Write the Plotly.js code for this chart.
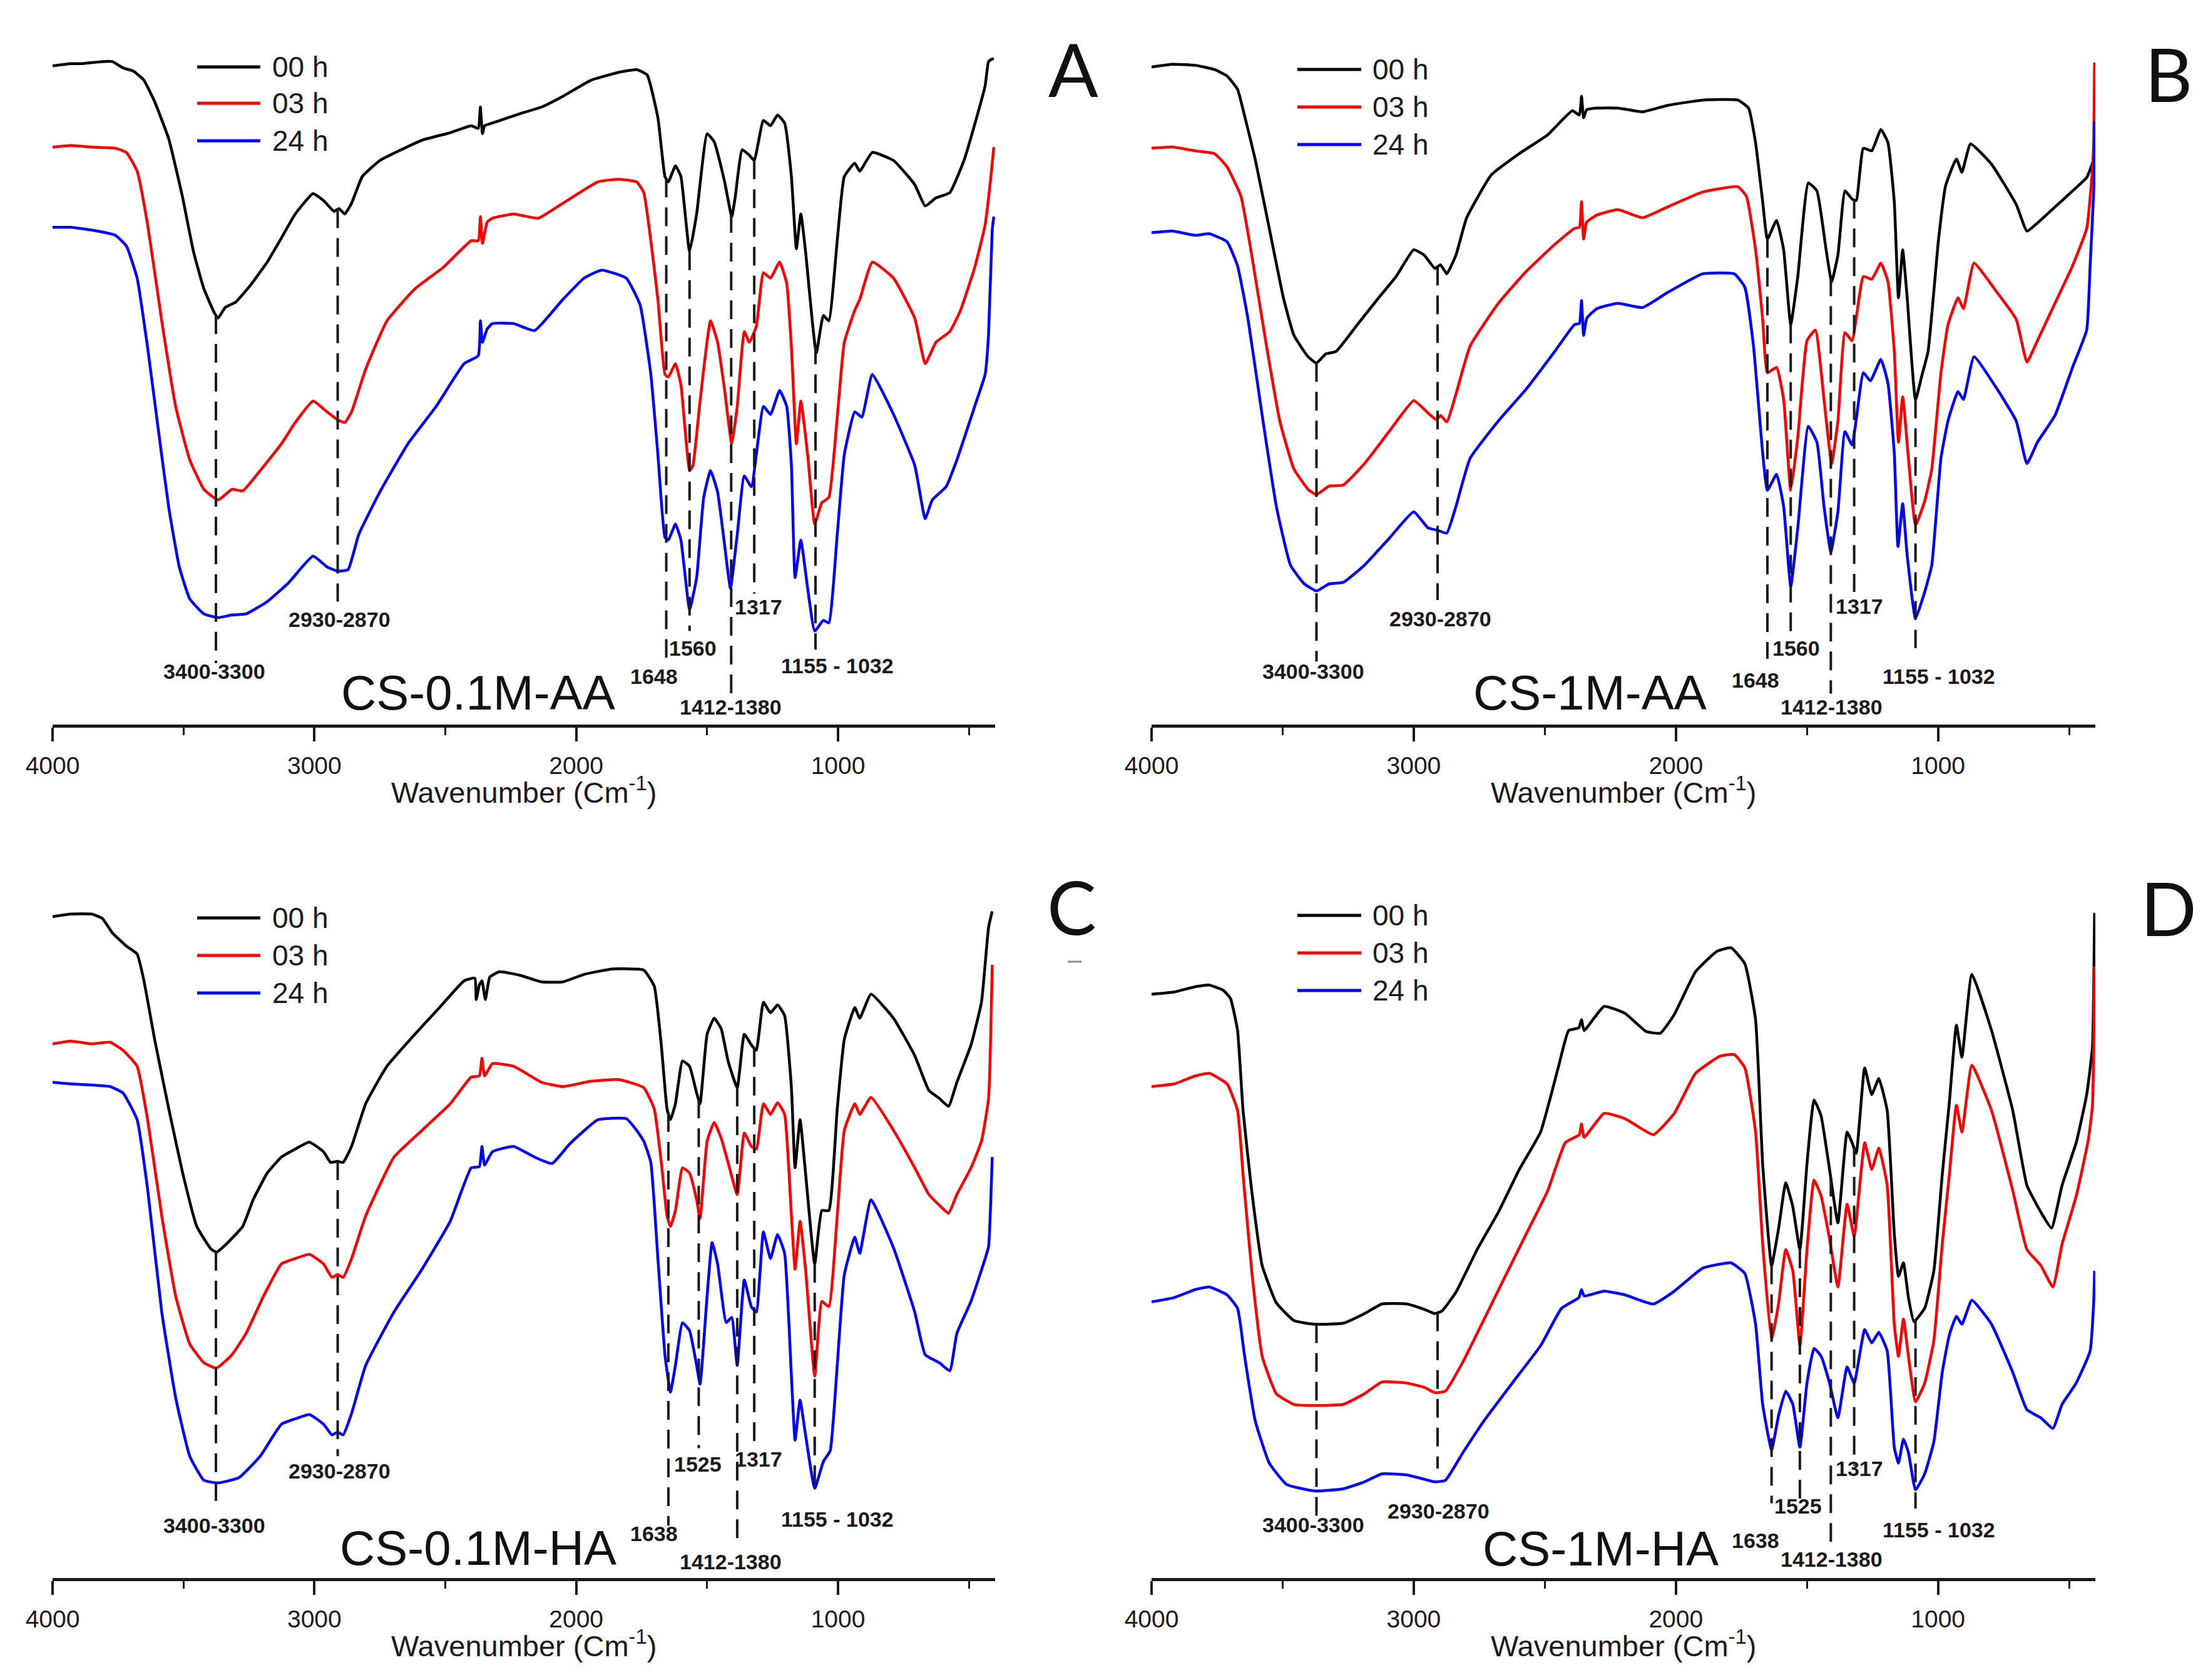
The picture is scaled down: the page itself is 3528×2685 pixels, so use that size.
<!DOCTYPE html>
<html>
<head>
<meta charset="utf-8">
<script src="https://cdn.plot.ly/plotly-3.0.1.min.js"></script>
<style>
  html, body { margin: 0; padding: 0; background: #fff; }
  #chart { width: 3528px; height: 2685px; }
</style>
</head>
<body>
<div id="chart"></div>
<script>
/* FTIR spectra of chitosan films, 4 panels (A-D), 3 exposure times each.
   Transmittance in arbitrary units (stacked). */

// ── Shared labels ─────────────────────────────
const TIME_LABELS = ["00 h", "03 h", "24 h"];
const TIME_COLORS = ["#000000", "#ff0000", "#0000ff"];
const SAMPLE_NAMES = ["CS-0.1M-AA", "CS-1M-AA", "CS-0.1M-HA", "CS-1M-HA"];
const PANEL_LETTERS = ["A", "B", "C", "D"];
const X_TICKS = [4000, 3000, 2000, 1000];
const X_TITLE = "Wavenumber (Cm<sup>-1</sup>)";

// ── Panel A: CS-0.1M-AA ───────────────────────
const wnA00 = [4000,3930,3890,3852,3810,3772,3730,3691,3651,3610,3556,3503,3462,3422,3382,3368,3341,3301,3247,3180,3126,3073,3005,2965,2925,2906,2884,2858,2817,2750,2669,2589,2481,2401,2374,2366,2358,2350,2320,2212,2132,2051,1944,1836,1769,1729,1688,1661,1648,1621,1600,1567,1540,1500,1473,1433,1406,1393,1366,1339,1320,1285,1258,1231,1204,1178,1159,1142,1124,1083,1056,1035,1003,976,936,917,869,788,707,667,626,573,519,465,438,425,411,405];
const tA00 = [123.2,123.6,123.6,123.8,124,124,122.8,122.2,120.5,116.5,109.5,98.5,88.5,81.5,77,76,78,79,82,86.5,91,95.5,99.3,98,96,96.5,95.5,97.5,102.5,105.5,107.5,109.3,110.7,112,111.5,115.5,110.5,112,112.5,114.3,115.5,117.5,120.5,122,122.5,121.5,113.5,102.5,101.5,104.5,102.5,88.5,95.5,110.5,109,101.5,95,98.5,107.5,106.5,105.5,113,112,114,112.5,102.5,89,95.5,88.5,69.5,76.5,75.5,90.5,102.5,105,103.5,107,105.5,101,97,98.5,99.5,105.5,114.5,119.5,124,124.5,124.5];
const wnA03 = [4000,3930,3852,3760,3718,3677,3637,3583,3530,3476,3422,3368,3315,3274,3207,3126,3073,3005,2952,2911,2884,2858,2804,2723,2616,2508,2401,2374,2366,2358,2340,2320,2239,2145,2051,1917,1836,1769,1742,1715,1688,1661,1648,1621,1600,1567,1554,1527,1487,1460,1433,1406,1385,1358,1339,1312,1285,1258,1223,1196,1178,1159,1142,1116,1089,1062,1035,1003,976,936,917,869,788,707,667,626,573,532,478,438,416,405];
const tA03 = [108,108.3,108,107.8,107,103.5,93.5,75.5,59.5,49.5,44,42,44,43.7,47.5,52.5,56.5,60.5,58.5,57,56.5,58.5,66.5,75.5,81.5,85.5,90.5,90.5,95,90,94,94.7,95.5,94.7,97.5,101.5,102,101.5,99.5,90.5,79.5,65.5,65,67.5,63.5,47.5,48.5,60.5,75.5,71.5,62.5,52.5,59.5,73.5,71.5,74.5,84.5,83.5,86.5,82.5,70.5,52.5,60.5,50.5,37.5,41.5,42.5,57.5,71.5,77.5,79.5,86.5,83.5,76,67.5,71.5,73.5,77.5,85.5,93.5,102.5,108];
const wnA24 = [4000,3930,3852,3760,3718,3677,3637,3597,3556,3516,3476,3422,3368,3315,3261,3180,3099,3005,2952,2911,2871,2831,2750,2643,2535,2428,2374,2366,2358,2340,2320,2239,2159,2051,1970,1903,1809,1756,1715,1688,1661,1648,1621,1600,1567,1540,1513,1487,1460,1433,1411,1385,1358,1331,1285,1258,1223,1196,1178,1164,1142,1116,1089,1056,1035,1003,976,936,909,869,788,707,667,640,587,546,478,438,425,411,405];
const tA24 = [93,93,92.5,91.5,89.5,83.5,70.5,55.5,40.5,29.5,23.5,20.7,20,20.5,20.7,23,26.5,31.5,29.5,28.7,29,35.5,43.5,52.5,59.5,67.5,69,75.5,71.5,74,75,75,73.7,79.5,83.5,85,83.5,78.5,65.5,50.5,35,34.5,37.5,34.5,21.5,27.5,42.5,47.5,43.5,33.5,25.5,35.5,46.5,44.5,59.5,58,62.5,59.5,48.5,27.5,34.5,25.5,17.5,19.5,19,35.5,50.5,58.5,57.5,65.5,58,48.5,38.5,42,44.5,49.5,59.5,65.5,73,92.5,95];
const peaksA = [3376, 2911, 1656, 1567, 1408, 1320, 1086];
const dashEndA = [11.5, 23, 12.5, 17.5, 5.5, 24.5, 14];
const labelsA = ["3400-3300", "2930-2870", "1648", "1560", "1412-1380", "1317", "1155 - 1032"];
const labelXA = [3382, 2903, 1702, 1554, 1411, 1304, 1003];
const labelYA = [10, 19.7, 9, 14.3, 3.3, 22, 11];

// ── Panel B: CS-1M-AA ─────────────────────────
const wnB00 = [4000,3920,3833,3760,3712,3672,3645,3605,3551,3497,3457,3403,3371,3336,3296,3215,3134,3067,3000,2960,2919,2898,2874,2839,2798,2704,2597,2489,2395,2368,2360,2352,2340,2301,2221,2127,2032,1898,1764,1723,1696,1669,1651,1616,1589,1562,1535,1495,1462,1427,1406,1382,1355,1328,1312,1285,1253,1218,1191,1167,1151,1135,1118,1086,1059,1038,998,971,930,909,876,796,702,661,621,554,487,433,406,403];
const tB00 = [123,123.5,123.3,122.5,121.3,118.8,113.8,105.8,92.8,79.8,72.8,68.8,67.6,69.3,69.8,74.8,79.8,83.8,88.8,87.8,85.3,86,84.3,87.8,94.8,102.8,106.8,110.3,114.8,114,117.5,113.5,115,115.3,115.3,114.6,115.8,116.8,116.8,115.3,108.8,97.8,90.8,94.3,88.8,74.8,83.8,101.3,99.8,88.8,82.8,87.8,99.8,98.3,98,107.8,107.3,111.3,108.8,97.8,79.8,88.8,80,60.8,65.8,69.8,90.8,100.8,105.8,103.3,108.6,104.8,97.3,92.3,93.8,96.8,99.8,102.3,105.8,108];
const wnB03 = [4000,3920,3833,3760,3712,3659,3618,3565,3511,3457,3403,3371,3323,3269,3188,3094,3000,2946,2914,2898,2874,2839,2785,2677,2570,2462,2387,2368,2360,2352,2340,2301,2221,2127,2032,1898,1764,1731,1696,1669,1651,1616,1589,1562,1535,1500,1468,1435,1406,1382,1355,1328,1285,1253,1218,1191,1167,1151,1135,1113,1086,1051,1024,989,962,924,903,863,782,702,661,621,554,487,433,411,406,403];
const tB03 = [107.8,108,107.3,106.8,104.3,98.8,87.8,71.8,56.8,47.8,44,43,44.6,44.8,48.8,54.8,60.6,58.3,57,57.8,56.6,61.8,70.8,78.8,84.8,89.8,92.8,93,97.8,90.8,94,95.3,96.3,94.8,96.8,99.6,100.6,98.8,88.8,75.8,65.8,66.8,60.8,43.8,53.8,71.8,73.8,60.8,48.8,56.8,73.3,71.8,83.8,83.3,86.3,82.8,69.8,52.8,61.3,49.8,37.3,41.8,47.8,65.8,74.8,79.8,77.8,86.3,81.3,75.8,67.8,71.8,78.8,85.8,92.8,103.8,110,123.8];
const wnB24 = [4000,3920,3833,3780,3712,3672,3632,3578,3524,3470,3417,3371,3323,3269,3188,3094,3000,2946,2906,2874,2839,2785,2677,2570,2462,2387,2368,2360,2352,2340,2301,2221,2127,2032,1898,1777,1737,1704,1669,1651,1616,1589,1562,1535,1495,1462,1435,1409,1382,1355,1328,1285,1258,1218,1191,1167,1153,1135,1118,1086,1051,1024,989,962,924,903,863,782,702,661,621,554,487,433,420,406,403];
const tB24 = [92,92.3,91.5,91.8,90.3,85.8,75.8,57.8,40.8,29.8,26.3,25,26.3,26.6,29.8,34.8,39.8,36.8,36.3,35.8,40.8,49.8,56.8,62.8,69.8,74.8,75,79.3,72.8,76,77.8,78.8,78,80.8,84.3,84.3,81.8,70.8,50.8,43.8,46.8,40.8,25.8,36.8,55.8,52.8,40.8,32.3,39.8,54.8,52.3,65.8,64.3,68.3,63.8,50.8,33.3,41.3,31.8,19.8,24.8,29.8,49.8,56.8,62.3,60.8,68.8,63.3,56.8,48.8,52.8,57.8,66.8,73.8,85.8,100,112.8];
const peaksB = [3371, 2909, 1651, 1562, 1409, 1320, 1086];
const dashEndB = [11.8, 23.3, 12.3, 15.8, 5.8, 24.8, 14.3];
const labelsB = ["3400-3300", "2930-2870", "1648", "1560", "1412-1380", "1317", "1155 - 1032"];
const labelXB = [3382, 2898, 1696, 1540, 1406, 1301, 997];
const labelYB = [10, 19.8, 8.3, 14.3, 3.3, 22.1, 9];

// ── Panel C: CS-0.1M-HA ───────────────────────
const wnC00 = [4000,3930,3852,3810,3772,3718,3677,3651,3610,3556,3503,3449,3395,3374,3341,3274,3234,3180,3126,3073,3019,2965,2938,2911,2890,2858,2804,2723,2616,2522,2428,2387,2382,2370,2360,2347,2330,2293,2212,2132,2051,1970,1863,1742,1702,1675,1653,1640,1621,1594,1567,1540,1527,1500,1473,1446,1420,1385,1358,1331,1312,1285,1258,1231,1204,1178,1164,1145,1124,1089,1062,1035,1003,976,936,917,874,788,707,653,613,578,546,492,452,425,411];
const tC00 = [123.8,124.3,124.3,123.5,120.8,118.3,116.8,111.8,100.8,87.8,75.8,65.8,61.6,61,62.3,65.8,70.8,75.8,78.8,80.3,81.6,79.8,77.8,78,77.8,80.8,88.8,95.8,101.8,106.8,111.8,112.3,108.3,111,111.8,108.3,112.5,113.5,112.8,111.6,111.6,113,114,113.8,110.8,99.8,87.8,85.8,88.8,96.8,95.8,90.8,88.8,101.8,104.8,102.8,96.8,91.8,101.8,99.8,98.8,107.8,105.8,107.3,105.3,91.8,76.8,85.8,75.8,58.8,68.8,68.8,87.8,100.8,106.8,104.8,109.3,104.8,97.8,91.3,89.8,88.3,92.8,99.8,107.8,121.8,124.8];
const wnC03 = [4000,3930,3852,3780,3731,3677,3637,3583,3530,3476,3422,3374,3315,3261,3194,3126,3073,3019,2965,2933,2911,2890,2858,2804,2696,2589,2481,2401,2370,2360,2350,2320,2239,2132,2051,1944,1836,1742,1702,1675,1653,1640,1621,1594,1567,1540,1527,1500,1473,1446,1420,1385,1358,1331,1312,1285,1258,1231,1204,1178,1164,1145,1124,1089,1062,1035,1003,976,936,917,874,788,707,653,613,578,546,492,452,425,411];
const tC03 = [100,100.5,100,100.3,98.8,95.8,85.8,67.8,52.8,43.8,40.3,39.3,41.8,45.8,52.8,58.8,59.8,60.6,58.8,56.3,56.8,56.3,59.8,67.8,78.8,83.8,88.8,93.8,94,97.3,94,96.3,95.8,92.8,92,93,93.3,91.8,87.8,77.8,67.8,65.8,68.8,76.8,75.8,70.8,67.3,81.8,85.3,82.3,77.8,71.8,83.3,80.8,80.3,88.8,86.8,89,86.8,67.8,57.8,66.8,57.8,37.8,51.8,50.8,67.8,83.8,88.8,86.8,90,83.8,76.8,71.8,69.8,68.3,71.8,76.8,81.8,89.8,114.8];
const wnC24 = [4000,3930,3852,3780,3731,3677,3637,3583,3530,3476,3422,3368,3288,3207,3126,3073,3019,2965,2933,2911,2890,2858,2804,2696,2589,2481,2401,2370,2360,2350,2320,2239,2159,2092,2024,1917,1809,1769,1742,1715,1688,1661,1640,1621,1594,1567,1540,1527,1500,1481,1460,1427,1406,1385,1358,1331,1312,1285,1258,1231,1204,1178,1164,1145,1124,1089,1056,1030,1003,976,936,917,874,788,707,667,613,573,546,492,438,425,411];
const tC24 = [92.8,92.5,92.3,92,90.8,85.8,72.8,49.8,33.8,22.8,18.3,17.8,18.8,22.8,28.8,29.8,30.6,28.8,26.8,27.3,26.8,30.8,39.8,49.8,57.8,66.8,76.8,77,80.8,77.3,79.8,80.8,78.8,77.6,81.3,85.8,86,83.8,81.8,77.8,59.8,41.8,34.8,39.8,47.8,46.3,39.8,36.3,52.8,62.8,58.8,47.8,48.8,39.8,55.8,50.8,49.8,64.8,59.8,64.3,60.8,37.8,25.8,33.3,26.8,16.8,21.8,23.8,39.8,56.8,63.8,60.8,70.8,61.8,49.8,41.8,40.3,38.8,45.8,51.8,59.8,62,78.8];
const peaksC = [3376, 2911, 1648, 1532, 1385, 1320, 1089];
const dashEndC = [13.8, 22.8, 9.8, 24.3, 6.8, 24.8, 16.3];
const labelsC = ["3400-3300", "2930-2870", "1638", "1525", "1412-1380", "1317", "1155 - 1032"];
const labelXC = [3382, 2903, 1702, 1535, 1411, 1304, 1003];
const labelYC = [9.8, 20, 8.3, 21.3, 3, 22.3, 11];

// ── Panel D: CS-1M-HA ─────────────────────────
const wnD00 = [4000,3914,3833,3780,3726,3699,3672,3651,3618,3578,3524,3457,3376,3269,3188,3121,3027,2960,2919,2892,2839,2758,2677,2597,2516,2449,2409,2370,2360,2350,2274,2194,2113,2059,2006,1925,1844,1790,1737,1696,1669,1635,1608,1581,1554,1527,1500,1473,1446,1414,1382,1347,1328,1312,1280,1253,1226,1194,1167,1151,1132,1113,1092,1051,1016,984,957,930,909,871,796,715,661,608,567,527,473,433,411,403];
const tD00 = [109.3,109.7,110.7,111,110,108.5,102.5,87.5,72.5,58.5,51.5,48.2,47.5,47.7,49.5,51.3,51.3,50.3,49.5,50,53.5,61.5,68.5,76.5,83.5,95.5,102.5,103,104.5,102.5,107,105.7,102.3,102,105.5,113.5,117.3,118,115,104.5,77.5,58.5,65.5,74,69.5,61.5,77.5,89.5,86.5,76.5,66.5,83.5,81.5,79.5,95.5,90.5,93.5,87.5,64.5,56.5,59,52.5,48,50.5,57.5,75.5,89,103.5,97.5,113,102.5,87.5,73.5,68.5,65.5,73.5,81.5,90.5,99.5,124.5];
const wnD03 = [4000,3914,3833,3780,3712,3672,3651,3618,3578,3524,3457,3376,3269,3188,3121,3027,2960,2919,2879,2812,2731,2651,2570,2489,2422,2368,2360,2350,2274,2194,2086,2006,1925,1831,1777,1737,1696,1669,1635,1608,1581,1554,1527,1500,1473,1446,1414,1382,1347,1320,1280,1253,1226,1194,1167,1151,1132,1113,1086,1051,1016,984,957,930,909,871,796,715,661,608,562,527,473,427,411,403];
const tD03 = [92,92.5,94,94.5,92.5,87.5,75.5,57.5,41.5,34.5,32.5,32.3,32.5,34.5,36.7,36.5,35.7,34.7,35,40.5,48.5,56.5,64.5,72.5,81.5,83,85,82.5,87,86,83,87,94.5,97.7,98,95.5,83.5,62.5,44.5,51.5,61.5,57.5,43.5,61.5,74.5,71.5,63.5,54.5,70,64,81.5,76.5,80.5,73.5,47.5,41.5,48.5,41.5,33,36.5,44.5,62.5,75.5,88.5,83.5,96,87.5,72.5,61.5,58.5,54.5,62.5,71.5,82,88.5,114.5];
const wnD24 = [4000,3914,3833,3780,3712,3672,3645,3605,3551,3484,3376,3269,3188,3121,3027,2960,2919,2879,2812,2731,2624,2516,2436,2370,2360,2350,2274,2194,2086,2006,1898,1790,1737,1696,1669,1635,1608,1581,1554,1527,1500,1473,1446,1414,1382,1347,1320,1280,1253,1226,1194,1167,1151,1132,1113,1086,1051,1016,984,957,930,909,871,796,715,661,608,562,527,473,420,406,403];
const tD24 = [51.7,52.5,54,54.5,53,50.5,41.5,29.5,21.5,17.5,16.3,16.7,18,19.5,19.3,18.5,18,18.3,23.5,29.5,36.5,43.5,50.5,52.5,54,52.8,53.7,53,51.3,53.7,58,59,57,47.5,32.5,24,30.5,35,32.5,24.5,36.5,43,41.5,36.5,30,39.5,36.5,46.5,44,46,42.5,24.5,21.5,26,23.5,16.5,19.5,25.5,38.5,45.5,49,47.5,52,47.5,38.5,31.5,30,28,32.5,36.5,42.5,52,57.5];
const peaksD = [3371, 2909, 1635, 1527, 1409, 1320, 1086];
const dashEndD = [10.5, 20.5, 14, 14.5, 6.5, 21, 13];
const labelsD = ["3400-3300", "2930-2870", "1638", "1525", "1412-1380", "1317", "1155 - 1032"];
const labelXD = [3382, 2906, 1696, 1535, 1406, 1301, 997];
const labelYD = [10, 12.5, 7, 13.5, 3.5, 20.5, 9];

// sample name position (data coords)
const nameX = [2374, 2328, 2374, 2288];
const nameY = [6.0, 6.0, 5.6, 5.5];

// ── Page geometry (pixels of the 3528 x 2685 figure) ──
const W = 3528;
const H = 2685;
const px = (x) => x / W;
const py = (y) => 1 - y / H;
const FONT = "Liberation Sans, Arial, sans-serif";
const INK = "#1a1a1a";

const PANELS = [
  {
    xa: "x", ya: "y", xPx: [84, 1590], yPx: [89, 1158],
    series: [[wnA00, tA00], [wnA03, tA03], [wnA24, tA24]],
    peaks: peaksA, dashEnd: dashEndA, labels: labelsA, labelX: labelXA, labelY: labelYA,
    legend: { x0: 315, x1: 416, tx: 433, y: [107, 165, 225] },
    letter: [1715, 110],
  },
  {
    xa: "x2", ya: "y2", xPx: [1840, 3348], yPx: [89, 1158],
    series: [[wnB00, tB00], [wnB03, tB03], [wnB24, tB24]],
    peaks: peaksB, dashEnd: dashEndB, labels: labelsB, labelX: labelXB, labelY: labelYB,
    legend: { x0: 2073, x1: 2175, tx: 2191, y: [111, 171, 231] },
    letter: [3465, 118],
  },
  {
    xa: "x3", ya: "y3", xPx: [84, 1590], yPx: [1454, 2522],
    series: [[wnC00, tC00], [wnC03, tC03], [wnC24, tC24]],
    peaks: peaksC, dashEnd: dashEndC, labels: labelsC, labelX: labelXC, labelY: labelYC,
    legend: { x0: 315, x1: 416, tx: 433, y: [1467, 1527, 1587] },
    letter: [1712, 1448],
  },
  {
    xa: "x4", ya: "y4", xPx: [1840, 3348], yPx: [1454, 2522],
    series: [[wnD00, tD00], [wnD03, tD03], [wnD24, tD24]],
    peaks: peaksD, dashEnd: dashEndD, labels: labelsD, labelX: labelXD, labelY: labelYD,
    legend: { x0: 2073, x1: 2175, tx: 2191, y: [1463, 1523, 1583] },
    letter: [3465, 1450],
  },
];

// linear lookup on a descending wavenumber grid
function valueAt(xs, ys, x) {
  for (let i = 0; i < xs.length - 1; i++) {
    const a = xs[i], b = xs[i + 1];
    if ((x <= a && x >= b) || (x >= a && x <= b)) {
      const t = (x - a) / (b - a);
      return ys[i] + t * (ys[i + 1] - ys[i]);
    }
  }
  return ys[ys.length - 1];
}

const traces = [];
const shapes = [];
const annotations = [];
const layout = {
  width: W,
  height: H,
  margin: { t: 0, r: 0, b: 0, l: 0 },
  paper_bgcolor: "#ffffff",
  plot_bgcolor: "#ffffff",
  showlegend: false,
  font: { family: FONT, color: INK },
};

PANELS.forEach((p, k) => {
  const xKey = "xaxis" + (k === 0 ? "" : k + 1);
  const yKey = "yaxis" + (k === 0 ? "" : k + 1);

  // spectra
  p.series.forEach(([wn, t], i) => {
    traces.push({
      type: "scatter",
      mode: "lines",
      x: wn,
      y: t,
      xaxis: p.xa,
      yaxis: p.ya,
      name: TIME_LABELS[i],
      line: { color: TIME_COLORS[i], width: 4.5, shape: "spline", smoothing: 0.4 },
      hoverinfo: "skip",
    });
  });

  layout[xKey] = {
    domain: [px(p.xPx[0]), px(p.xPx[1])],
    anchor: p.ya,
    range: [4000, 400],
    autorange: false,
    showgrid: false,
    zeroline: false,
    showline: true,
    linewidth: 5,
    linecolor: INK,
    ticks: "outside",
    ticklen: 22,
    tickwidth: 4,
    tickcolor: INK,
    tickvals: X_TICKS,
    ticktext: X_TICKS.map(String),
    ticklabelstandoff: 5,
    tickfont: { family: FONT, size: 39, color: INK },
    minor: { dtick: 500, tick0: 0, ticks: "outside", ticklen: 12, tickwidth: 3, tickcolor: INK },
    automargin: false,
    fixedrange: true,
  };
  layout[yKey] = {
    domain: [py(p.yPx[1]), py(p.yPx[0])],
    anchor: p.xa,
    range: [0, 125.1],
    visible: false,
    fixedrange: true,
  };

  // axis title, centred under the axis
  annotations.push({
    xref: "paper",
    yref: "paper",
    x: px((p.xPx[0] + p.xPx[1]) / 2),
    y: py(p.yPx[1] + 105),
    xanchor: "center",
    yanchor: "middle",
    text: X_TITLE,
    showarrow: false,
    font: { family: FONT, size: 47, color: INK },
  });

  // dashed peak markers, from the 00 h curve down to the label
  const [wnBlack, tBlack] = p.series[0];
  p.peaks.forEach((w, j) => {
    shapes.push({
      type: "line",
      xref: p.xa,
      yref: p.ya,
      x0: w,
      x1: w,
      y0: valueAt(wnBlack, tBlack, w),
      y1: p.dashEnd[j],
      line: { color: INK, width: 4, dash: "30px,16px" },
    });
    annotations.push({
      xref: p.xa,
      yref: p.ya,
      x: p.labelX[j],
      y: p.labelY[j],
      xanchor: "center",
      yanchor: "middle",
      text: "<b>" + p.labels[j] + "</b>",
      showarrow: false,
      font: { family: FONT, size: 34, color: INK },
    });
  });

  // sample name
  annotations.push({
    xref: p.xa,
    yref: p.ya,
    x: nameX[k],
    y: nameY[k],
    xanchor: "center",
    yanchor: "middle",
    text: SAMPLE_NAMES[k],
    showarrow: false,
    font: { family: FONT, size: 78, color: "#111" },
  });

  // panel letter
  annotations.push({
    xref: "paper",
    yref: "paper",
    x: px(p.letter[0]),
    y: py(p.letter[1]),
    xanchor: "center",
    yanchor: "middle",
    text: PANEL_LETTERS[k],
    showarrow: false,
    font: { family: "Lato, Open Sans, sans-serif", size: 118, color: "#111" },
  });

  // hand-placed legend (long line samples as in the original)
  TIME_LABELS.forEach((lab, i) => {
    shapes.push({
      type: "line",
      xref: "paper",
      yref: "paper",
      x0: px(p.legend.x0),
      x1: px(p.legend.x1),
      y0: py(p.legend.y[i]),
      y1: py(p.legend.y[i]),
      line: { color: TIME_COLORS[i], width: 5 },
    });
    annotations.push({
      xref: "paper",
      yref: "paper",
      x: px(p.legend.tx),
      y: py(p.legend.y[i]),
      xanchor: "left",
      yanchor: "middle",
      text: lab,
      showarrow: false,
      font: { family: FONT, size: 46, color: INK },
    });
  });
});

// small grey stroke left under the "C" in the original
shapes.push({
  type: "line",
  xref: "paper",
  yref: "paper",
  x0: px(1706),
  x1: px(1728),
  y0: py(1537),
  y1: py(1537),
  line: { color: "#8a8a8a", width: 3 },
});

layout.shapes = shapes;
layout.annotations = annotations;

Plotly.newPlot("chart", traces, layout, { staticPlot: true, displayModeBar: false });
</script>
</body>
</html>
